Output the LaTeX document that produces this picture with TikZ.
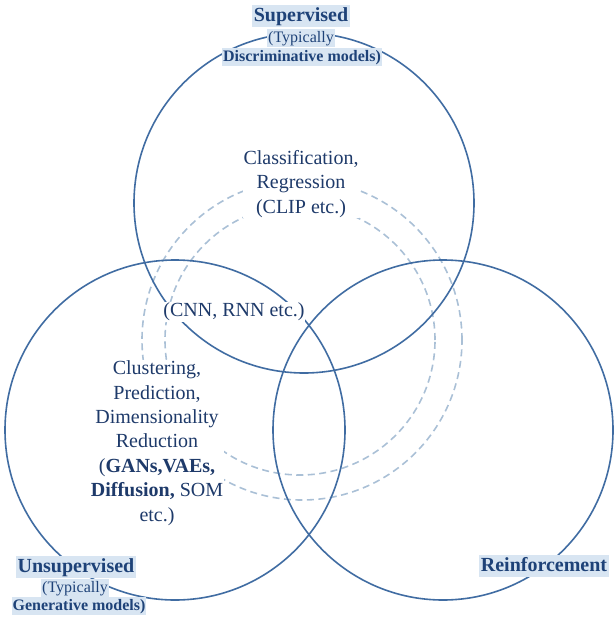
\documentclass[tikz,border=0pt]{standalone}
\usepackage{fontspec}
\setmainfont{Liberation Serif}
\definecolor{txt}{RGB}{30,58,106}
\definecolor{lbltxt}{RGB}{30,66,120}
\definecolor{ring}{RGB}{64,108,162}
\definecolor{dash}{RGB}{170,192,214}
\definecolor{hl}{RGB}{216,229,242}
\tikzset{
  ringc/.style={circle, draw=ring, line width=1.6pt, inner sep=0pt, outer sep=0pt, minimum size=#1},
  dashc/.style={circle, draw=dash, line width=1.6pt, dash pattern=on 7pt off 4.5pt, inner sep=0pt, outer sep=0pt, minimum size=#1},
  mainlbl/.style={fill=hl, text=lbltxt, font=\fontsize{20}{24}\selectfont\bfseries, inner xsep=2pt, inner ysep=1.5pt, text height=14.5pt, text depth=4pt},
  sublbl/.style={fill=hl, text=lbltxt, font=\fontsize{16}{19}\selectfont, inner xsep=1pt, inner ysep=1pt, text height=12pt, text depth=3.5pt},
  sublblb/.style={sublbl, font=\fontsize{16}{19}\selectfont\bfseries},
  inner/.style={fill=white, text=txt, align=center, font=\fontsize{20}{24.4}\selectfont, inner sep=0.5pt}
}
\begin{document}
\begin{tikzpicture}[x=1pt, y=-1pt]
\useasboundingbox (0,0) rectangle (615,623);
% dashed circles
\node[dashc=320pt] (douter) at (302,340) {};
\node[dashc=270pt] (dinner) at (300,340) {};
% solid circles
\node[ringc=340pt] (csup) at (304,203) {};
\node[ringc=340pt] (cuns) at (175,430) {};
\node[ringc=340pt] (crei) at (443,430) {};
% inner texts
\node[inner] (tcls) at (301,184) {Classification,\\Regression\\(CLIP etc.)};
\node[inner] (tcnn) at (234,312) {(CNN, RNN etc.)};
\node[inner] (tclu) at (157,443) {Clustering,\\Prediction,\\Dimensionality\\Reduction\\(\textbf{GANs,VAEs,}\\\textbf{Diffusion,} SOM\\etc.)};
% labels
\node[mainlbl] (lsup) at (301,16) {Supervised};
\node[sublbl] (lsupa) at (301,38) {(Typically};
\node[sublblb] (lsupb) at (302,57) {Discriminative models)};
\node[mainlbl] (luns) at (76,567) {Unsupervised};
\node[sublbl] (lunsa) at (75,588) {(Typically};
\node[sublblb] (lunsb) at (79,606) {Generative models)};
\node[mainlbl] (lrei) at (544,566) {Reinforcement};
\end{tikzpicture}
\end{document}
